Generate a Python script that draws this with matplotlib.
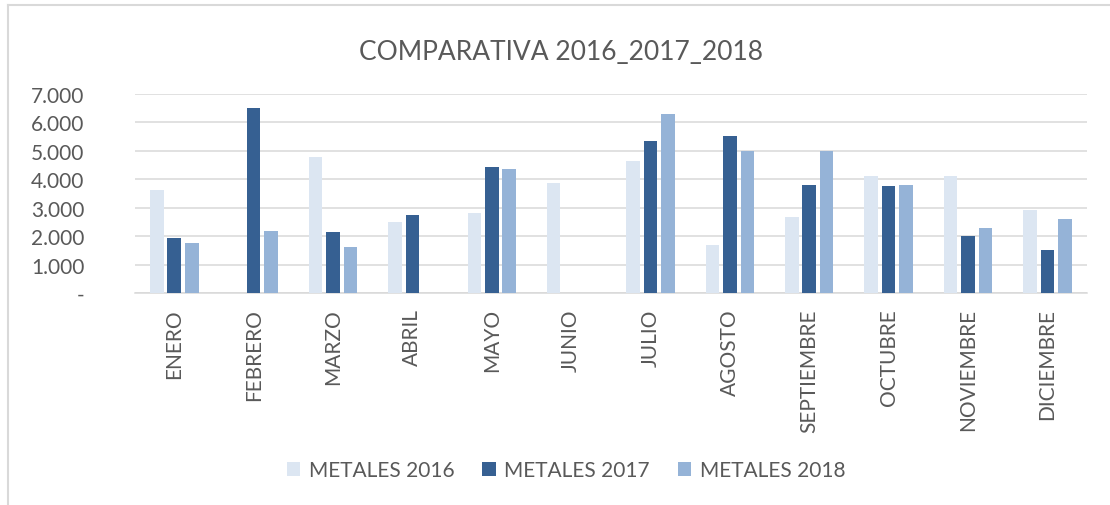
import numpy as np
import matplotlib.pyplot as plt
from matplotlib.ticker import FuncFormatter
from matplotlib.lines import Line2D

plt.rcParams['font.family'] = ['Lato', 'DejaVu Sans']

meses = ["ENERO", "FEBRERO", "MARZO", "ABRIL", "MAYO", "JUNIO",
         "JULIO", "AGOSTO", "SEPTIEMBRE", "OCTUBRE", "NOVIEMBRE", "DICIEMBRE"]
metales_2016 = [3610, 0, 4790, 2480, 2800, 3860, 4650, 1690, 2690, 4100, 4130, 2920]
metales_2017 = [1920, 6490, 2150, 2760, 4430, 0, 5340, 5530, 3790, 3760, 2000, 1500]
metales_2018 = [1750, 2170, 1630, 0, 4360, 0, 6290, 5010, 4990, 3810, 2300, 2620]
series = ["METALES 2016", "METALES 2017", "METALES 2018"]
colores = ["#DCE6F2", "#366092", "#95B3D7"]

W, H = 1110, 506
texto = "#595959"
gris = "#D9D9D9"

fig = plt.figure(figsize=(W / 100, H / 100), dpi=100)
ax = fig.add_axes([134.6 / W, 1 - 294 / H, (1087 - 134.6) / W, (294 - 95) / H])

x = np.arange(len(meses))
ancho = 0.171
paso = 0.22
for i, (vals, nombre) in enumerate(zip([metales_2016, metales_2017, metales_2018], series)):
    ax.bar(x + (i - 1) * paso, vals, width=ancho, color=colores[i], label=nombre, zorder=3)

ax.set_xlim(-0.5, len(meses) - 0.5)
ax.set_ylim(0, 7000)
ax.set_yticks(np.arange(0, 7001, 1000))
ax.yaxis.set_major_formatter(FuncFormatter(lambda v, p: "-" if v == 0 else f"{int(v):,}".replace(",", ".")))
ax.set_xticks(x)
ax.set_xticklabels(meses, rotation=90)

ax.grid(axis="y", color=gris, linewidth=1.1, zorder=0)
for s in ["top", "right", "left"]:
    ax.spines[s].set_visible(False)
ax.spines["bottom"].set_color(gris)
ax.spines["bottom"].set_linewidth(1.1)
ax.tick_params(axis="both", length=0, colors=texto, labelsize=15)
ax.tick_params(axis="y", pad=36)
ax.tick_params(axis="x", pad=11)

fig.text(561 / W, 1 - 52 / H, "COMPARATIVA 2016_2017_2018", ha="center", va="center",
         fontsize=19, color=texto)

leg = fig.legend(loc="center", bbox_to_anchor=(566 / W, 1 - 471 / H), ncol=3, frameon=False,
                 fontsize=15, handlelength=0.65, handleheight=0.65, handletextpad=0.4,
                 columnspacing=1.35)
for t in leg.get_texts():
    t.set_color(texto)

# marco del grafico
fig.add_artist(Line2D([8 / W, 8 / W], [0, 1 - 6 / H], color=gris, linewidth=1.5))
fig.add_artist(Line2D([8 / W, 1], [1 - 6 / H, 1 - 6 / H], color=gris, linewidth=1.5))

fig.savefig("out.png", dpi=100, facecolor="white")
